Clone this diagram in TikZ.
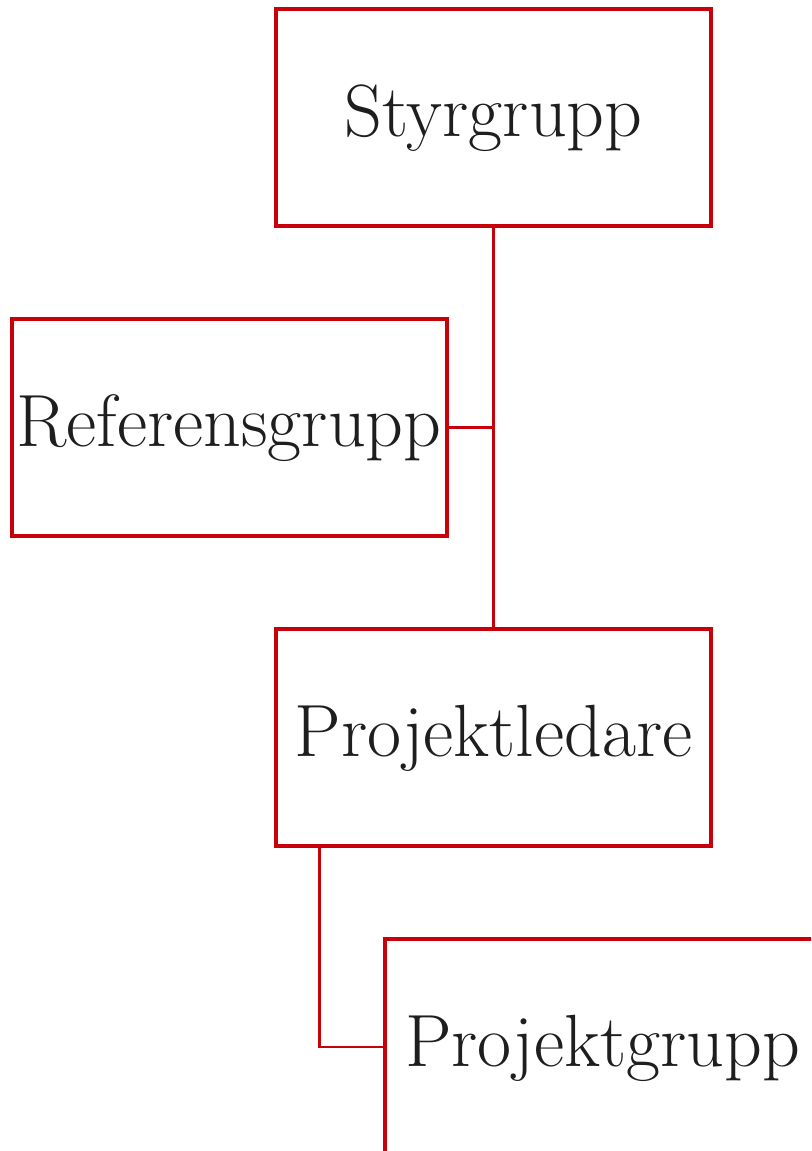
\documentclass[tikz,border=0pt]{standalone}
\definecolor{boxred}{HTML}{C8000A}
\definecolor{txt}{HTML}{1E1E1E}
\begin{document}
\begin{tikzpicture}[x=0.75pt,y=-0.75pt,
  orgbox/.style={draw=boxred,line width=3pt,minimum width=435*0.75pt,minimum height=217*0.75pt,
    inner sep=0pt,text=txt,font=\fontsize{55.5pt}{66pt}\selectfont,text height=35pt,text depth=6pt},
  link/.style={draw=boxred,line width=1.6pt}]
\clip (0,0) rectangle (811,1151);
\useasboundingbox (0,0) rectangle (811,1151);
\node[orgbox] (sty) at (493.5,117.5) {Styrgrupp};
\node[orgbox] (ref) at (229,427.5) {Referensgrupp};
\node[orgbox] (pl) at (493.5,737) {Projektledare};
\node[orgbox] (pg) at (602.5,1047) {Projektgrupp};
\coordinate (j) at (sty.south |- ref.east);
\draw[link] (sty.south) -- (pl.north);
\draw[link] (ref.east) -- (j);
\draw[link] ([xshift=-174*0.75pt]pl.south) |- (pg.west);
\end{tikzpicture}
\end{document}
